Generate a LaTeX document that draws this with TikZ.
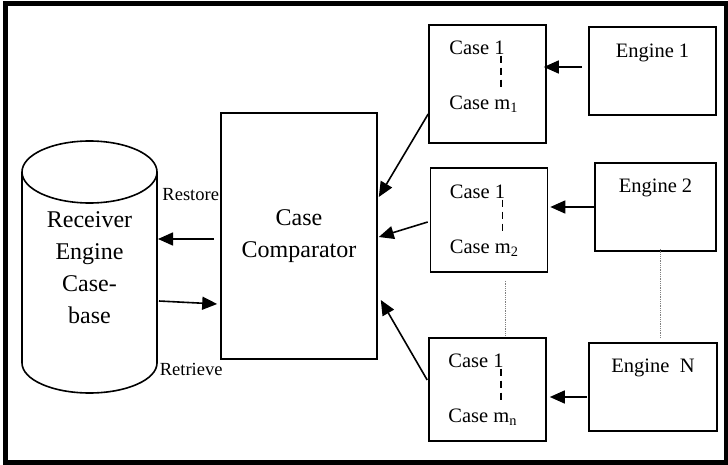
\documentclass[tikz,border=0pt]{standalone}
\usepackage{fontspec}
\setmainfont{Liberation Serif}
\usetikzlibrary{arrows.meta,positioning,calc}

\begin{document}
\begin{tikzpicture}[
   x=1pt, y=-1pt, >={Triangle[length=15pt,width=13pt]},
   box/.style={draw, line width=1.6pt, inner sep=0pt},
   casebox/.style={box, minimum width=117pt},
   engbox/.style={box, minimum height=88pt},
   txt/.style={inner sep=0pt, font=\fontsize{20.5}{24}\selectfont},
   lbl/.style={inner sep=0pt, font=\fontsize{18.5}{22}\selectfont},
   big/.style={font=\fontsize{24}{32}\selectfont, align=center},
   arr/.style={->, line width=1.6pt},
   dots/.style={densely dotted, line width=0.8pt, gray},
   casedash/.style={line width=1.6pt, dash pattern=on 7pt off 5pt}]
  \useasboundingbox (0,0) rectangle (728,465);
  \draw[line width=5pt] (5.5,4) rectangle (726.5,462.5);

  % case base and comparator
  \node[big, inner sep=0pt] (base) at (89.5,268) {Receiver\\Engine\\Case-\\base};
  \coordinate (cyltop) at (89.5,172);
  \coordinate (cylbot) at (89.5,363);
  \draw[line width=1.6pt] (cyltop) ellipse [x radius=67.5pt, y radius=31pt];
  \draw[line width=1.6pt] ([xshift=-67.5pt]cyltop) -- ([xshift=-67.5pt]cylbot)
     arc[start angle=180, end angle=360, x radius=67.5pt, y radius=30pt] -- ([xshift=67.5pt]cyltop);
  \node[box, big, minimum width=156pt, minimum height=246pt] (comp) at (299,236) {Case\\Comparator};
  \node[lbl, anchor=east] (restore)  at ([shift={(-1,-41)}]comp.west) {Restore};
  \node[lbl]              (retrieve) at ([shift={(-29,10)}]comp.south west) {Retrieve};

  % case lists
  \node[casebox, minimum height=118pt] (case1) at (487.5,84) {};
  \node[casebox, minimum height=104pt] (case2) at (489,220) {};
  \node[casebox, minimum height=103pt] (caseN) at (487.5,389.5) {};
  \node[txt, anchor=base west] (c1top) at ([shift={(21,30)}]case1.north west) {Case 1};
  \node[txt, anchor=base west] (c1bot) at ([shift={(21,85)}]case1.north west) {Case m\textsubscript{1}};
  \node[txt, anchor=base west] (c2top) at ([shift={(20,31)}]case2.north west) {Case 1};
  \node[txt, anchor=base west] (c2bot) at ([shift={(20,86)}]case2.north west) {Case m\textsubscript{2}};
  \node[txt, anchor=base west] (cNtop) at ([shift={(20,30)}]caseN.north west) {Case 1};
  \node[txt, anchor=base west] (cNbot) at ([shift={(20,85)}]caseN.north west) {Case m\textsubscript{n}};
  \draw[casedash] ($(c1top.south east)+(-4,1)$) -- ($(c1top.south east |- c1bot.north)+(-4,-7)$);
  \draw[casedash] ($(c2top.south east)+(-3,1)$) -- ($(c2top.south east |- c2bot.north)+(-3,-7)$);
  \draw[casedash] ($(cNtop.south east)+(-3,1)$) -- ($(cNtop.south east |- cNbot.north)+(-3,-7)$);

  % engines
  \node[engbox, minimum width=127pt] (eng1) at (652.5,71)  {};
  \node[engbox, minimum width=121pt] (eng2) at (655.5,207) {};
  \node[engbox, minimum width=128pt] (engN) at (653,387)   {};
  \node[txt, anchor=base] (e1txt) at ([shift={(0,31)}]eng1.north) {Engine 1};
  \node[txt, anchor=base] (e2txt) at ([shift={(0,30)}]eng2.north) {Engine 2};
  \node[txt, anchor=base] (eNtxt) at ([shift={(0,30)}]engN.north) {Engine~~N};

  % connectors
  \draw[arr] ([shift={(-6,-4)}]eng1.west) -- ([shift={(-3,-17)}]case1.east);
  \draw[arr] (eng2.west) -- ([shift={(2,-13)}]case2.east);
  \draw[arr] ([shift={(-1,10)}]engN.west) -- ([shift={(3,7.5)}]caseN.east);
  \draw[arr] ([shift={(0,30)}]case1.west) -- ([shift={(1,-39)}]comp.east);
  \draw[arr] ([shift={(-2,2)}]case2.west) -- ([shift={(1,1)}]comp.east);
  \draw[arr] ([shift={(-1,-9.5)}]caseN.west) -- ([shift={(3,64)}]comp.east);
  \draw[arr] ([shift={(-6,3)}]comp.west) -- ([shift={(68.5,-29)}]base.center);
  \draw[arr] ([shift={(69.5,33)}]base.center) -- ([shift={(-3,68)}]comp.west);
  \draw[dots] ([shift={(16,8)}]case2.south) -- ([shift={(17.5,-1)}]caseN.north);
  \draw[dots] ([shift={(4.5,-3)}]eng2.south) -- ([shift={(7,-5)}]engN.north);
\end{tikzpicture}
\end{document}
